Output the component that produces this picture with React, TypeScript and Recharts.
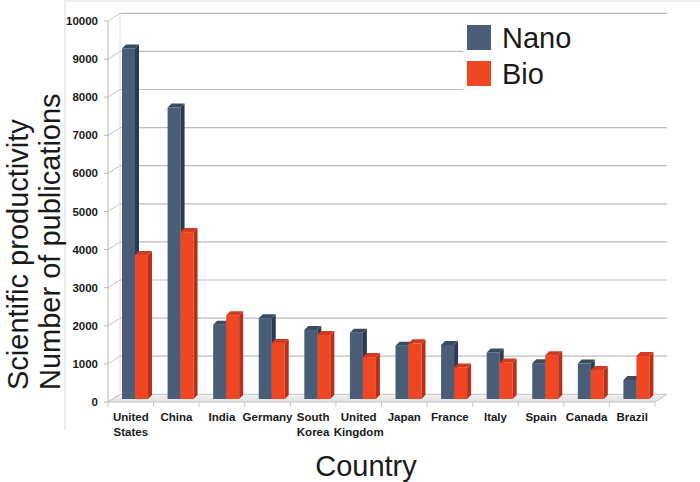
import React from 'react';
import { BarChart, Bar, XAxis, YAxis, CartesianGrid } from 'recharts';

const countries = ['United States', 'China', 'India', 'Germany', 'South Korea', 'United Kingdom', 'Japan', 'France', 'Italy', 'Spain', 'Canada', 'Brazil'];
const nano = [9200, 7650, 1950, 2120, 1810, 1740, 1400, 1420, 1220, 940, 930, 500];
const bio = [3780, 4380, 2200, 1470, 1680, 1100, 1460, 830, 960, 1150, 760, 1130];
const yTicks = [0, 1000, 2000, 3000, 4000, 5000, 6000, 7000, 8000, 9000, 10000];

const seriesNames = ['Nano', 'Bio'];
const COLORS = {
  Nano: { front: '#4a5d77', side: '#2b3b4f', top: '#3a4c63' },
  Bio: { front: '#ef4624', side: '#b9301a', top: '#d33b1f' },
};

const data = countries.map((c, i) => ({ country: c, Nano: nano[i], Bio: bio[i] }));

const DX = 12; // back wall depth offset x
const DY = -7.7; // back wall depth offset y
const BAR_DEPTH = 4;
const BAR_SHIFT_X = 4;
const BAR_SHIFT_Y = -3;
const GRID = '#bcbcbc';
const TICK_FONT = "'Liberation Sans Narrow', 'Arial Narrow', 'Liberation Sans', Arial, sans-serif";
const TITLE_FONT = "'Liberation Sans', Arial, Helvetica, sans-serif";

const make3DShape = (key: 'Nano' | 'Bio') => (props: any) => {
  const { x, y, width, height } = props;
  if (width == null || height == null || height <= 0) return <g />;
  const c = COLORS[key];
  const x0 = x + BAR_SHIFT_X;
  const y0 = y + BAR_SHIFT_Y;
  const d = BAR_DEPTH;
  const w = width;
  const h = height;
  return (
    <g>
      <rect x={x0} y={y0} width={w} height={h} fill={c.front} />
      <polygon
        points={`${x0 + w},${y0} ${x0 + w + d},${y0 - d} ${x0 + w + d},${y0 + h - d} ${x0 + w},${y0 + h}`}
        fill={c.side}
      />
      <polygon
        points={`${x0},${y0} ${x0 + d},${y0 - d} ${x0 + w + d},${y0 - d} ${x0 + w},${y0}`}
        fill={c.top}
      />
    </g>
  );
};

const gridLine = (props: any) => {
  const { x1, y1, x2, index } = props;
  const bottom = props.y != null && props.height != null ? props.y + props.height : null;
  const isBottom = bottom != null ? Math.abs(y1 - bottom) < 1 : index === 0;
  const isTop = props.y != null ? Math.abs(y1 - props.y) < 1 : false;
  return (
    <g key={`g-${index}`}>
      {isBottom ? (
        <g>
          <defs>
            <linearGradient id="floorGrad" x1="0" y1="0" x2="0" y2="1">
              <stop offset="0%" stopColor="#f4f4f4" />
              <stop offset="100%" stopColor="#dedede" />
            </linearGradient>
          </defs>
          <polygon
            points={`${x1},${y1} ${x2},${y1} ${x2 + DX},${y1 + DY} ${x1 + DX},${y1 + DY}`}
            fill="url(#floorGrad)"
            stroke="#c4c4c4"
            strokeWidth={1}
          />
        </g>
      ) : (
        <line x1={x1 + DX} y1={y1 + DY} x2={x2 + DX} y2={y1 + DY} stroke={GRID} strokeWidth={1.2} />
      )}
      <line x1={x1} y1={y1} x2={x1 + DX} y2={y1 + DY} stroke="#c4c4c4" strokeWidth={1} />
      {isTop && bottom != null ? (
        <line x1={x1 + DX} y1={y1 + DY} x2={x1 + DX} y2={bottom + DY} stroke="#dcdcdc" strokeWidth={1} />
      ) : null}
    </g>
  );
};

const XTick = (props: any) => {
  const { x, y, payload } = props;
  const half = payload && payload.offset != null ? payload.offset : 0;
  const lines = String(payload.value).split(' ');
  const isLast = payload.index === countries.length - 1;
  return (
    <g>
      {half ? <line x1={x - half} x2={x - half} y1={y} y2={y + 5} stroke="#c4c4c4" /> : null}
      {half && isLast ? <line x1={x + half} x2={x + half} y1={y} y2={y + 5} stroke="#c4c4c4" /> : null}
      <text x={x} y={y + 19} textAnchor="middle" fontFamily={TICK_FONT} fontWeight="bold" fontSize={11.5} fill="#1a1a1a">
        {lines.map((l, i) => (
          <tspan key={i} x={x} dy={i === 0 ? 0 : 15}>
            {l}
          </tspan>
        ))}
      </text>
    </g>
  );
};

export default function App() {
  return (
    <div style={{ position: 'absolute', left: 0, top: 0, width: 700, height: 482, background: '#fff' }}>
      <svg width={700} height={482} style={{ position: 'absolute', left: 0, top: 0 }}>
        <line x1={65} y1={0} x2={65} y2={430} stroke="#dadada" />
        <line x1={65} y1={1} x2={700} y2={1} stroke="#dadada" />
        <text
          transform="translate(28,390) rotate(-90)"
          textAnchor="start"
          fontFamily={TITLE_FONT}
          fontSize={29}
          fill="#1a1a1a"
        >
          Scientific productivity
        </text>
        <text
          transform="translate(60,390) rotate(-90)"
          textAnchor="start"
          fontFamily={TITLE_FONT}
          fontSize={29}
          fill="#1a1a1a"
        >
          Number of publications
        </text>
        <text x={366} y={476} textAnchor="middle" fontFamily={TITLE_FONT} fontSize={29} fill="#1a1a1a">
          Country
        </text>
      </svg>
      <div style={{ position: 'absolute', left: 0, top: 0 }}>
        <BarChart
          width={700}
          height={482}
          data={data}
          margin={{ top: 21, right: 45, bottom: 20, left: 48 }}
          barGap={0}
          barCategoryGap="20%"
        >
          <CartesianGrid vertical={false} horizontal={gridLine} stroke={GRID} />
          <XAxis
            dataKey="country"
            interval={0}
            height={60}
            tickSize={0}
            tickMargin={0}
            axisLine={false}
            tickLine={false}
            tick={<XTick />}
          />
          <YAxis
            width={60}
            domain={[0, 10000]}
            ticks={yTicks}
            interval={0}
            tickSize={4}
            tickMargin={6}
            axisLine={{ stroke: '#b8b8b8' }}
            tickLine={{ stroke: '#b8b8b8' }}
            tick={{ fill: '#1a1a1a', fontSize: 11.5, fontWeight: 'bold', fontFamily: TICK_FONT }}
          />
          {seriesNames.map((s) => (
            <Bar
              key={s}
              dataKey={s}
              name={s}
              barSize={13}
              fill={COLORS[s as 'Nano' | 'Bio'].front}
              shape={make3DShape(s as 'Nano' | 'Bio')}
              isAnimationActive={false}
            />
          ))}
        </BarChart>
      </div>
      <div
        style={{
          position: 'absolute',
          left: 463,
          top: 18,
          width: 225,
          height: 72,
          background: '#fff',
          fontFamily: TITLE_FONT,
        }}
      >
        {seriesNames.map((s, i) => (
          <div key={s} style={{ position: 'absolute', left: 4, top: 7 + i * 36, height: 25, display: 'flex', alignItems: 'center' }}>
            <div style={{ width: 24, height: 25, background: COLORS[s as 'Nano' | 'Bio'].front }} />
            <span style={{ marginLeft: 11, fontSize: 29, color: '#1a1a1a', lineHeight: '25px', position: 'relative', top: 1 }}>{s}</span>
          </div>
        ))}
      </div>
    </div>
  );
}
